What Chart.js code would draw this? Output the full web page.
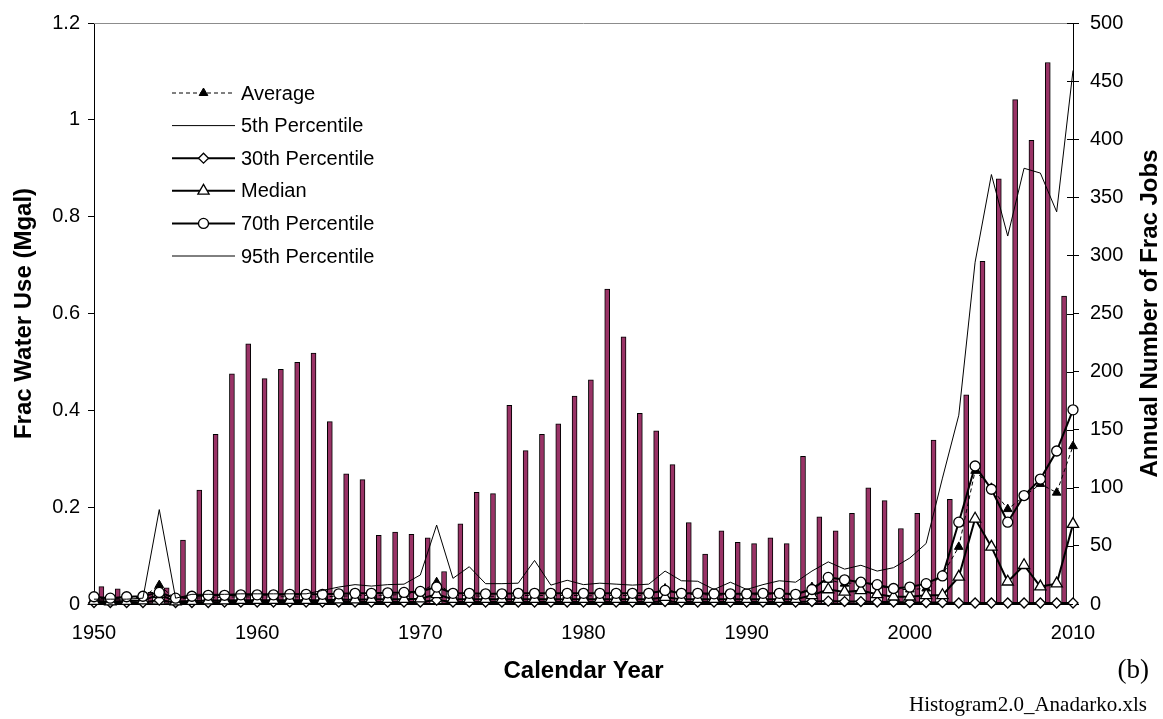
<!DOCTYPE html>
<html><head><meta charset="utf-8">
<script src="https://cdn.jsdelivr.net/npm/chart.js@4/dist/chart.umd.min.js"></script>
<style>html,body{margin:0;padding:0;background:#fff;overflow:hidden}</style>
</head><body>
<canvas id="c" width="1163" height="719"></canvas>
<script>
const years = [1950,1951,1952,1953,1954,1955,1956,1957,1958,1959,
  1960,1961,1962,1963,1964,1965,1966,1967,1968,1969,
  1970,1971,1972,1973,1974,1975,1976,1977,1978,1979,
  1980,1981,1982,1983,1984,1985,1986,1987,1988,1989,
  1990,1991,1992,1993,1994,1995,1996,1997,1998,1999,
  2000,2001,2002,2003,2004,2005,2006,2007,2008,2009,2010];

// Annual number of frac jobs (right axis)
const fracJobs = [15,13,2,10,14,55,98,146,198,224,
  194,202,208,216,157,112,107,59,62,60,
  57,28,69,96,95,171,132,146,155,179,
  193,271,230,164,149,120,70,43,63,53,
  52,57,52,127,75,63,78,100,89,65,
  78,141,90,180,295,366,434,399,466,265,17];

// Frac water use (Mgal, left axis)
const average = [.012,.01,.012,.014,.039,.01,.012,.013,.014,.015,
  .014,.015,.015,.014,.015,.016,.017,.018,.018,.02,
  .024,.045,.018,.017,.016,.016,.017,.018,.017,.018,
  .017,.017,.018,.017,.018,.032,.02,.02,.018,.019,
  .018,.02,.021,.018,.035,.05,.042,.045,.038,.03,
  .03,.032,.06,.118,.275,.24,.196,.222,.248,.23,.326];

const p5 = [.001,.001,.001,.001,.002,.001,.001,.001,.001,.001,
  .001,.001,.001,.001,.001,.001,.001,.001,.001,.001,
  .001,.001,.001,.001,.001,.001,.001,.001,.001,.001,
  .001,.001,.001,.001,.001,.001,.001,.001,.001,.001,
  .001,.001,.001,.001,.001,.001,.001,.001,.001,.001,
  .001,.001,.001,.001,.001,.001,.001,.001,.001,.001,.001];

const p30 = [.003,.003,.003,.003,.008,.003,.003,.003,.004,.004,
  .004,.004,.004,.004,.004,.004,.004,.004,.004,.004,
  .004,.008,.004,.004,.004,.004,.004,.004,.004,.004,
  .004,.004,.004,.004,.004,.005,.004,.004,.004,.004,
  .004,.004,.004,.004,.005,.006,.005,.005,.004,.004,
  .003,.003,.003,.002,.002,.002,.002,.002,.002,.002,.002];

const median = [.006,.005,.006,.007,.02,.005,.006,.007,.007,.008,
  .008,.008,.008,.008,.008,.009,.009,.01,.01,.01,
  .011,.02,.01,.01,.01,.01,.01,.01,.01,.01,
  .01,.01,.01,.01,.01,.014,.01,.01,.01,.01,
  .01,.01,.01,.01,.018,.03,.025,.028,.02,.015,
  .015,.018,.018,.056,.176,.118,.046,.08,.036,.042,.165];

const p70 = [.015,.012,.015,.016,.024,.012,.016,.018,.018,.019,
  .019,.019,.02,.02,.02,.021,.022,.022,.023,.024,
  .026,.035,.022,.022,.021,.021,.022,.022,.022,.022,
  .022,.022,.022,.022,.022,.028,.022,.022,.021,.021,
  .021,.022,.022,.02,.03,.055,.05,.045,.04,.032,
  .035,.042,.058,.169,.285,.237,.169,.224,.258,.316,.401];

const p95 = [.01,.01,.01,.012,.195,.012,.02,.02,.02,.021,
  .021,.021,.021,.021,.028,.035,.04,.037,.04,.041,
  .06,.163,.053,.077,.042,.042,.043,.09,.039,.049,
  .04,.043,.041,.039,.041,.068,.048,.047,.03,.045,
  .03,.04,.048,.045,.068,.087,.072,.08,.068,.075,
  .095,.125,.26,.39,.706,.887,.76,.9,.89,.81,1.102];

const seriesNames = ['Average','5th Percentile','30th Percentile','Median','70th Percentile','95th Percentile'];
const xTitle = 'Calendar Year';
const yTitle = 'Frac Water Use (Mgal)';
const y1Title = 'Annual Number of Frac Jobs';
const panelLabel = '(b)';
const sourceLabel = 'Histogram2.0_Anadarko.xls';

const pts = arr => years.map((yr, i) => ({x: yr, y: arr[i]}));

Chart.defaults.font.family = "'Liberation Sans', Arial, sans-serif";
Chart.defaults.color = '#000';

const lineBase = {type: 'line', xAxisID: 'x', yAxisID: 'y', borderColor: '#000',
  pointBorderColor: '#000', tension: 0, clip: false, fill: false};

const datasets = [
  Object.assign({}, lineBase, {label: seriesNames[0], data: pts(average), borderWidth: 1,
    borderDash: [4, 3], pointStyle: 'triangle', pointRadius: 5, pointBackgroundColor: '#000',
    pointBorderWidth: 1, order: 6}),
  Object.assign({}, lineBase, {label: seriesNames[1], data: pts(p5), borderWidth: 1,
    pointRadius: 0, order: 5}),
  Object.assign({}, lineBase, {label: seriesNames[2], data: pts(p30), borderWidth: 2,
    pointStyle: 'rectRot', pointRadius: 5, pointBackgroundColor: '#fff', pointBorderWidth: 1.3, order: 4}),
  Object.assign({}, lineBase, {label: seriesNames[3], data: pts(median), borderWidth: 2,
    pointStyle: 'triangle', pointRadius: 6.5, pointBackgroundColor: '#fff', pointBorderWidth: 1.3, order: 3}),
  Object.assign({}, lineBase, {label: seriesNames[4], data: pts(p70), borderWidth: 2,
    pointStyle: 'circle', pointRadius: 5, pointBackgroundColor: '#fff', pointBorderWidth: 1.3, order: 2}),
  Object.assign({}, lineBase, {label: seriesNames[5], data: pts(p95), borderWidth: 1,
    pointRadius: 0, order: 1}),
  {type: 'bar', label: 'Frac Jobs', data: pts(fracJobs), xAxisID: 'xb', yAxisID: 'y1',
    backgroundColor: '#993366', borderColor: '#000', borderWidth: 1, barThickness: 5,
    borderSkipped: false, order: 100}
];

const decorPlugin = {
  id: 'decor',
  afterDraw(chart) {
    const ctx = chart.ctx, ca = chart.chartArea;
    ctx.save();
    // top border
    ctx.strokeStyle = '#8c8c8c'; ctx.lineWidth = 1;
    ctx.beginPath(); ctx.moveTo(ca.left, ca.top + 0.5); ctx.lineTo(ca.right, ca.top + 0.5); ctx.stroke();
    // inner half of right axis ticks (cross ticks)
    const y1 = chart.scales.y1;
    ctx.strokeStyle = '#000';
    y1.ticks.forEach(t => {
      const py = Math.round(y1.getPixelForValue(t.value)) + 0.5;
      ctx.beginPath(); ctx.moveTo(ca.right - 6, py); ctx.lineTo(ca.right, py); ctx.stroke();
    });
    // right axis title, reading bottom-to-top
    ctx.save();
    ctx.translate(1150, (ca.top + ca.bottom) / 2);
    ctx.rotate(-Math.PI / 2);
    ctx.font = "bold 24px 'Liberation Sans', Arial, sans-serif";
    ctx.fillStyle = '#000'; ctx.textAlign = 'center'; ctx.textBaseline = 'middle';
    ctx.fillText(y1Title, 0, 0);
    ctx.restore();
    // legend
    const lx0 = 172, lx1 = 235, ly0 = 93, dy = 32.6;
    chart.data.datasets.filter(d => d.type === 'line').forEach((d, i) => {
      const y = ly0 + i * dy;
      ctx.save();
      ctx.strokeStyle = '#000'; ctx.lineWidth = d.borderWidth;
      ctx.setLineDash(d.borderDash || []);
      ctx.beginPath(); ctx.moveTo(lx0, y); ctx.lineTo(lx1, y); ctx.stroke();
      ctx.setLineDash([]);
      if (d.pointRadius > 0) {
        ctx.fillStyle = d.pointBackgroundColor; ctx.strokeStyle = '#000'; ctx.lineWidth = d.pointBorderWidth;
        Chart.helpers.drawPoint(ctx, {pointStyle: d.pointStyle, radius: d.pointRadius, rotation: 0,
          borderWidth: d.pointBorderWidth}, (lx0 + lx1) / 2, y);
      }
      ctx.restore();
      ctx.fillStyle = '#000';
      ctx.font = "20px 'Liberation Sans', Arial, sans-serif";
      ctx.textAlign = 'left'; ctx.textBaseline = 'middle';
      ctx.fillText(d.label, 241, y + 1);
    });
    // panel label and source
    ctx.fillStyle = '#000';
    ctx.textAlign = 'right'; ctx.textBaseline = 'middle';
    ctx.font = "27px 'Liberation Serif', 'Times New Roman', serif";
    ctx.fillText(panelLabel, 1149, 671);
    ctx.textBaseline = 'alphabetic';
    ctx.font = "21px 'Liberation Serif', 'Times New Roman', serif";
    ctx.fillText(sourceLabel, 1147, 711);
    ctx.restore();
  }
};

new Chart(document.getElementById('c'), {
  data: {datasets},
  options: {
    responsive: false, animation: false, devicePixelRatio: 1,
    layout: {padding: {top: 19, left: 0, right: 0, bottom: 0}},
    plugins: {legend: {display: false}, tooltip: {enabled: false}},
    scales: {
      x: {type: 'linear', position: 'bottom', min: 1950, max: 2010, offset: false,
        ticks: {stepSize: 10, font: {size: 20}, padding: 17, maxRotation: 0, callback: v => String(v)},
        grid: {display: false, drawTicks: false},
        border: {display: true, color: '#000', width: 1},
        title: {display: true, text: xTitle, font: {size: 24, weight: 'bold'}, padding: {top: 0, bottom: 33}},
        afterFit: s => { s.height = 115; }},
      xb: {type: 'linear', display: false, min: 1949.7, max: 2009.7, offset: false,
        grid: {offset: false}},
      y: {type: 'linear', position: 'left', min: 0, max: 1.2,
        ticks: {stepSize: 0.2, font: {size: 20}, padding: 8, callback: v => String(Math.round(v * 10) / 10)},
        grid: {drawOnChartArea: false, drawTicks: true, tickLength: 6, color: '#000'},
        border: {display: true, color: '#000', width: 1},
        title: {display: true, text: yTitle, font: {size: 24, weight: 'bold'}, padding: {top: 10, bottom: 0}},
        afterFit: s => { s.width = 94; }},
      y1: {type: 'linear', position: 'right', min: 0, max: 500,
        ticks: {stepSize: 50, font: {size: 20}, padding: 11},
        grid: {drawOnChartArea: false, drawTicks: true, tickLength: 6, color: '#000'},
        border: {display: true, color: '#000', width: 1},
        title: {display: false},
        afterFit: s => { s.width = 90; }}
    }
  },
  plugins: [decorPlugin]
});
</script>
</body></html>
